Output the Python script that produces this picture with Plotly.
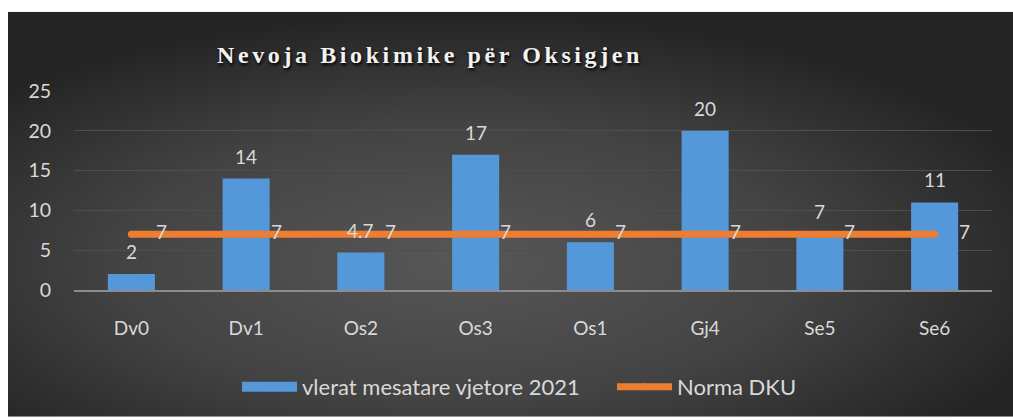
import base64
import plotly.graph_objects as go

categories = ["Dv0", "Dv1", "Os2", "Os3", "Os1", "Gj4", "Se5", "Se6"]
values_2021 = [2, 14, 4.7, 17, 6, 20, 7, 11]
norma_dku = [7, 7, 7, 7, 7, 7, 7, 7]
y_ticks = [0, 5, 10, 15, 20, 25]

W, H = 1013, 420
L, R, T, B = 74, 21, 91, 128
pw, ph = W - L - R, H - T - B

TXT = "#d9d9d9"
FONT = "Lato"
BLUE = "#5598d9"
ORANGE = "#ed7d31"

fig = go.Figure()
fig.add_trace(go.Bar(
    x=categories, y=values_2021, name="vlerat mesatare vjetore 2021",
    marker=dict(color=BLUE, line=dict(width=0)), width=0.41,
    legendgroup="bar", showlegend=False,
))
# legend entry with a wide swatch for the bar series
fig.add_trace(go.Scatter(
    x=[None], y=[None], name="vlerat mesatare vjetore 2021", mode="lines",
    line=dict(color=BLUE, width=14), legendgroup="bar", showlegend=True,
))
fig.add_trace(go.Scatter(
    x=categories, y=norma_dku, name="Norma DKU", mode="lines+markers",
    line=dict(color=ORANGE, width=7),
    marker=dict(color=ORANGE, size=7),
))

for c, v in zip(categories, values_2021):
    fig.add_annotation(x=c, y=v, text=f"{v:g}", showarrow=False, yanchor="bottom",
                       yshift=9, font=dict(family=FONT, size=19, color=TXT))
for c, v in zip(categories, norma_dku):
    fig.add_annotation(x=c, y=v, text=f"{v:g}", showarrow=False, xanchor="center",
                       xshift=30, yshift=3, font=dict(family=FONT, size=19, color=TXT))

# gradient background (dark Office style)
bx0, by0 = 8, 11
bw, bh = W - bx0, H - by0
svg = (f'<svg xmlns="http://www.w3.org/2000/svg" width="{bw}" height="{bh}" viewBox="0 0 {bw} {bh}" '
       f'preserveAspectRatio="none"><defs><radialGradient id="g" cx="0.45" cy="0.62" r="0.62">'
       f'<stop offset="0" stop-color="#575757"/><stop offset="0.55" stop-color="#434343"/>'
       f'<stop offset="1" stop-color="#242424"/></radialGradient></defs>'
       f'<rect width="{bw}" height="{bh}" fill="url(#g)"/></svg>')
src = "data:image/svg+xml;base64," + base64.b64encode(svg.encode()).decode()
fig.add_layout_image(dict(
    source=src, xref="paper", yref="paper",
    x=(bx0 - L) / pw, y=(H - B - by0) / ph,
    sizex=bw / pw, sizey=bh / ph, sizing="stretch", layer="below",
    xanchor="left", yanchor="top",
))

fig.update_layout(
    width=W, height=H,
    margin=dict(l=L, r=R, t=T, b=B, pad=0),
    paper_bgcolor="white", plot_bgcolor="rgba(0,0,0,0)",
    title=dict(text="<b>Nevoja Biokimike për Oksigjen</b>", x=430 / W, xanchor="center",
               y=1 - 55 / H, yanchor="middle", xref="container", yref="container",
               font=dict(family="Liberation Serif", size=24, color="#f2f2f2",
                         shadow="1px 2px 3px #000000")),
    showlegend=True,
    legend=dict(orientation="h", x=(237 - L) / pw, xanchor="left",
                y=(H - B - 390) / ph, yanchor="middle",
                font=dict(family=FONT, size=22, color=TXT), bgcolor="rgba(0,0,0,0)",
                itemwidth=55, traceorder="normal", entrywidth=305, entrywidthmode="pixels"),
    bargap=0.59,
)
fig.update_xaxes(showgrid=False, showline=True, linecolor="#8c8c8c", linewidth=2,
                 ticks="", tickfont=dict(family=FONT, size=19, color=TXT),
                 ticklabelstandoff=20, zeroline=False)
fig.update_yaxes(range=[0, 25], tickvals=y_ticks, showgrid=True, gridcolor="#4e4e4e",
                 gridwidth=1, zeroline=False, showline=False, ticks="",
                 tickfont=dict(family=FONT, size=19.5, color=TXT), ticklabelstandoff=22)

post = """
document.body.style.margin='0';
document.querySelectorAll('.gtitle').forEach(function(t){t.style.letterSpacing='3.6px';});
"""
fig.write_html("out.html", config={"displayModeBar": False}, post_script=post)
